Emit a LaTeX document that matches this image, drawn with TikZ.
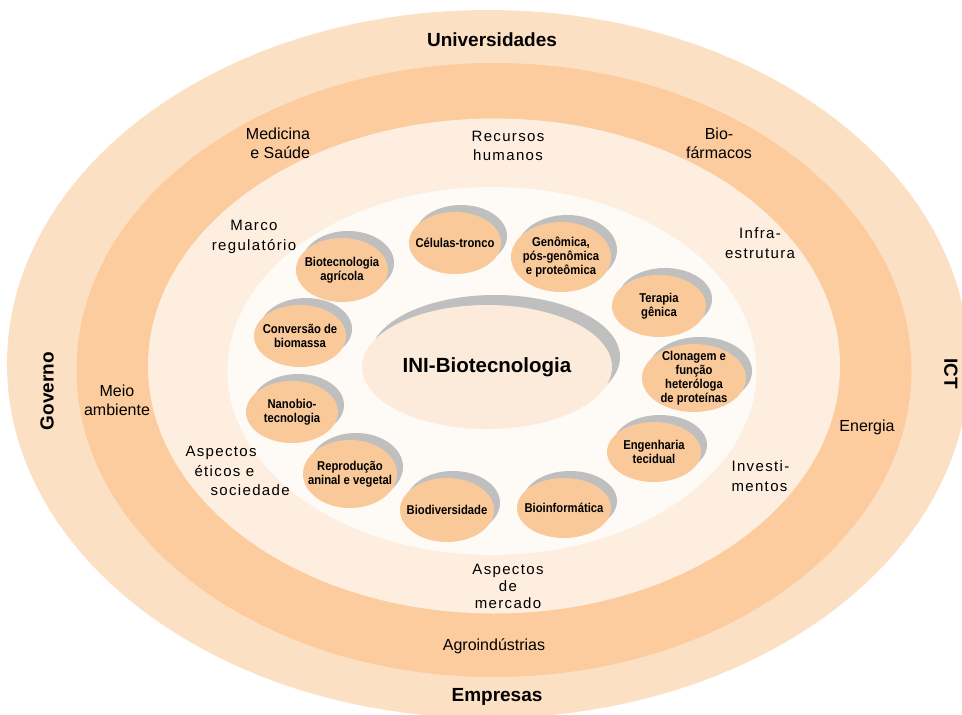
\documentclass[tikz,border=0pt]{standalone}
\usepackage{fontspec}
\setmainfont{Liberation Sans}
\newfontfamily\narrowfont[FakeStretch=0.88]{Liberation Sans}
\newfontfamily\spacedfont[LetterSpace=9]{Liberation Sans}
\usetikzlibrary{shapes.geometric,shadows}
\definecolor{ringouter}{RGB}{252,224,196}
\definecolor{ringorange}{RGB}{252,204,158}
\definecolor{ringlight}{RGB}{253,238,223}
\definecolor{ringwhite}{RGB}{254,250,245}
\definecolor{corefill}{RGB}{252,235,218}
\definecolor{topicfill}{RGB}{249,201,154}
\definecolor{shadowgray}{RGB}{191,191,191}
\tikzset{
  ring/.style={ellipse, draw=none, inner sep=0pt},
  bigname/.style={font=\bfseries\fontsize{19}{22}\selectfont},
  sector/.style={align=center, font=\fontsize{16}{19}\selectfont},
  issue/.style={align=center, font=\spacedfont\fontsize{15}{19.5}\selectfont},
  topiclabel/.style={align=center, inner sep=0pt, font=\narrowfont\bfseries\fontsize{12.8}{14}\selectfont},
  topic/.style={ellipse, fill=topicfill, inner sep=0pt, minimum width=94pt, minimum height=62pt,
    drop shadow={shadow xshift=6pt, shadow yshift=7pt, fill=shadowgray, opacity=1},
    label={[topiclabel]center:#1}}
}
\begin{document}
\begin{tikzpicture}[x=1pt, y=-1pt]
  \useasboundingbox (0,0) rectangle (962,715);
  % rings
  \node (outer) [ring, fill=ringouter, minimum width=962pt, minimum height=708pt] at (488,364) {};
  \node (orange) [ring, fill=ringorange, minimum width=835pt, minimum height=614pt] at (494,370) {};
  \node (light) [ring, fill=ringlight, minimum width=692pt, minimum height=495pt] at (494,366) {};
  \node (inner) [ring, fill=ringwhite, minimum width=529pt, minimum height=368pt] at (492,371) {};
  % core
  \node (core) [ellipse, fill=corefill, inner sep=0pt, minimum width=250pt, minimum height=124pt,
    drop shadow={shadow xshift=8pt, shadow yshift=10pt, fill=shadowgray, opacity=1},
    font=\bfseries\fontsize{20.5}{24}\selectfont] at (487,367) {INI-Biotecnologia};
  % topics
  \node (cells) [topic={Células-tronco}, minimum width=92pt] at (455,243) {};
  \node (genomics) [topic={Genômica,\\pós-genômica\\e proteômica}, minimum width=100pt, minimum height=70pt] at (561,257) {};
  \node (therapy) [topic={Terapia\\gênica}] at (659,306) {};
  \node (cloning) [topic={Clonagem e\\função\\heteróloga\\de proteínas}, minimum width=104pt, minimum height=68pt] at (694,378) {};
  \node (tissue) [topic={Engenharia\\tecidual}, minimum height=60pt] at (654,452) {};
  \node (bioinfo) [topic={Bioinformática}, minimum height=60pt] at (564,508) {};
  \node (biodiv) [topic={Biodiversidade}, minimum height=64pt] at (447,510) {};
  \node (breeding) [topic={Reprodução\\aninal e vegetal}, minimum height=68pt] at (350,474) {};
  \node (nano) [topic={Nanobio-\\tecnologia}, minimum width=92pt] at (292,412) {};
  \node (biomass) [topic={Conversão de\\biomassa}, minimum width=92pt] at (300,336) {};
  \node (agri) [topic={Biotecnologia\\agrícola}, minimum width=92pt, minimum height=64pt] at (342,270) {};
  % actors
  \node (univ) [bigname] at (492,40) {Universidades};
  \node (firms) [bigname] at (497,697) {Empresas};
  \node (gov) [bigname, rotate=90] at (47,391) {Governo};
  \node (ict) [bigname, rotate=-90] at (951,374) {ICT};
  % sectors
  \node (health) [sector, align=right] at (278,143) {Medicina\\e Saúde};
  \node (pharma) [sector] at (719,143) {Bio-\\fármacos};
  \node (environ) [sector] at (117,400) {Meio\\ambiente};
  \node (energy) [sector] at (867,427) {Energia};
  \node (agro) [sector] at (494,646) {Agroindústrias};
  % issues
  \node (people) [issue] at (508,146) {Recursos\\humanos};
  \node (rules) [issue] at (254,237) {Marco\\regulatório};
  \node (infra) [issue] at (760,243) {Infra-\\estrutura};
  \node (ethics) [issue, align=left, anchor=west] at (182,471) {Aspectos\\\hspace*{9pt}éticos e\\\hspace*{25pt}sociedade};
  \node (invest) [issue, align=left, anchor=west] at (728,476) {Investi-\\mentos};
  \node (market) [issue, font=\spacedfont\fontsize{15}{17}\selectfont] at (508,586) {Aspectos\\de\\mercado};
\end{tikzpicture}
\end{document}
